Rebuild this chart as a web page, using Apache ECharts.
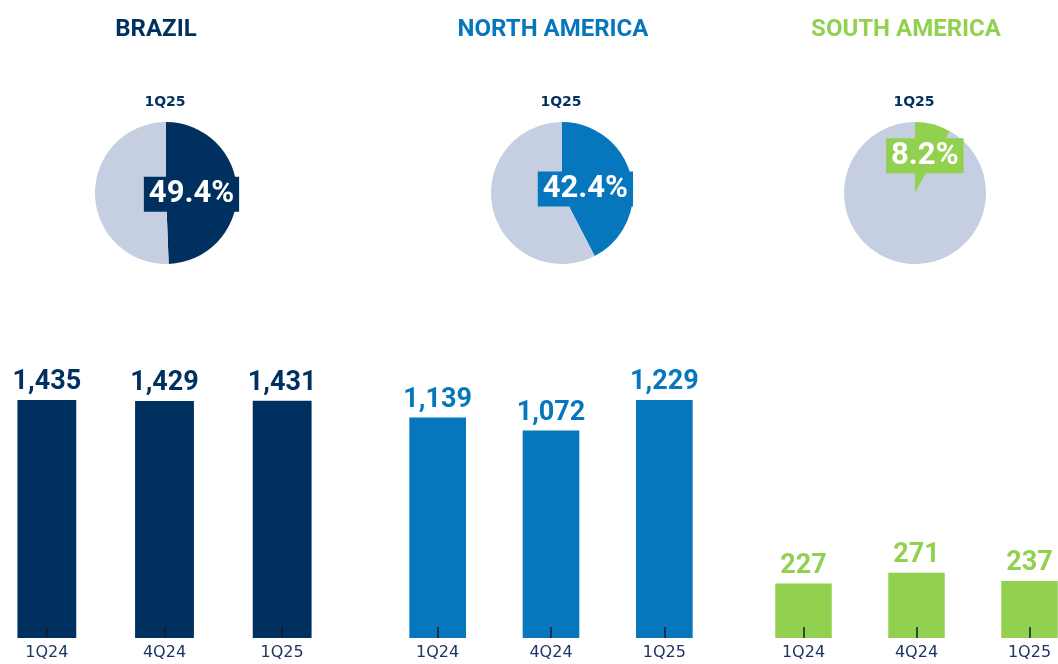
<!DOCTYPE html>
<html>
<head>
<meta charset="utf-8">
<script src="https://cdn.jsdelivr.net/npm/echarts@6/dist/echarts.min.js"></script>
<style>
html,body{margin:0;padding:0;background:#fff;}
#chart{width:1058px;height:664px;}
</style>
</head>
<body>
<div id="chart"></div>
<script>
// ---- data ----
const regions = ['BRAZIL', 'NORTH AMERICA', 'SOUTH AMERICA'];
const categories = ['1Q24', '4Q24', '1Q25'];
const brazilVolumes = [1435, 1429, 1431];
const northAmericaVolumes = [1139, 1072, 1229];
const southAmericaVolumes = [227, 271, 237];
const shareQuarter = '1Q25';
const shares = [49.4, 42.4, 8.2];
const shareRest = [50.6, 57.6, 91.8];

// ---- style / layout ----
const colors = ['#00305f', '#0677bd', '#92d050'];
const restColor = '#c5cfe1';
const axisLabelColor = '#1d3563';
const panels = [
  { cx: 166, titleX: 156, gridLeft: -12, gridWidth: 353, yMax: 1435, labelOffset: [-13, 2] },
  { cx: 562, titleX: 553, gridLeft: 381, gridWidth: 340, yMax: 1229, labelOffset: [-14, 5] },
  { cx: 915, titleX: 906, gridLeft: 747, gridWidth: 339, yMax: 990, labelOffset: [0, 0] }
];
const volumes = [brazilVolumes, northAmericaVolumes, southAmericaVolumes];
const FONT = 'Roboto, "DejaVu Sans", sans-serif';

const chart = echarts.init(document.getElementById('chart'));

const graphics = [];
const grids = [], xAxes = [], yAxes = [], series = [];
panels.forEach((p, i) => {
  graphics.push({
    type: 'text', x: p.titleX, y: 30, silent: true,
    style: { text: regions[i], fill: colors[i], font: 'bold 24px Roboto, sans-serif', align: 'center', verticalAlign: 'middle' }
  });
  graphics.push({
    type: 'text', x: p.cx - 1, y: 102, silent: true,
    style: { text: shareQuarter, fill: colors[0], font: 'bold 14px "DejaVu Sans", sans-serif', align: 'center', verticalAlign: 'middle' }
  });
  grids.push({ left: p.gridLeft, width: p.gridWidth, top: 400, height: 238, containLabel: false, outerBoundsMode: 'none' });
  xAxes.push({
    type: 'category', gridIndex: i, data: categories, z: 10,
    axisLine: { show: false },
    axisTick: { show: true, inside: true, length: 11, alignWithLabel: true, lineStyle: { color: '#1a1a1a', width: 1.5 } },
    axisLabel: { color: axisLabelColor, fontSize: 16, fontFamily: '"DejaVu Sans", sans-serif', margin: 7 }
  });
  yAxes.push({ type: 'value', gridIndex: i, min: 0, max: p.yMax, show: false, splitLine: { show: false } });
  series.push({
    type: 'bar', xAxisIndex: i, yAxisIndex: i, data: volumes[i],
    barCategoryGap: '50%', itemStyle: { color: colors[i] }, silent: true,
    label: {
      show: true, position: 'top', distance: 4, color: colors[i],
      fontSize: 27, fontWeight: 'bold', fontFamily: FONT,
      formatter: (d) => d.value.toLocaleString('en-US')
    }
  });
  series.push({
    type: 'pie', center: [p.cx, 193], radius: 71, startAngle: 90, clockwise: true,
    silent: true, animation: false, labelLine: { show: false },
    data: [
      {
        value: shares[i], itemStyle: { color: colors[i] },
        label: {
          show: true, position: 'inside', offset: p.labelOffset,
          formatter: (d) => d.value.toFixed(1) + '%',
          color: '#fff', fontSize: 31, fontWeight: 'bold', fontFamily: FONT,
          lineHeight: 34, backgroundColor: colors[i], padding: [1, 5, 0, 5]
        }
      },
      { value: shareRest[i], itemStyle: { color: restColor }, label: { show: false } }
    ]
  });
});

chart.setOption({
  animation: false,
  graphic: graphics,
  grid: grids,
  xAxis: xAxes,
  yAxis: yAxes,
  series: series
});
</script>
</body>
</html>
